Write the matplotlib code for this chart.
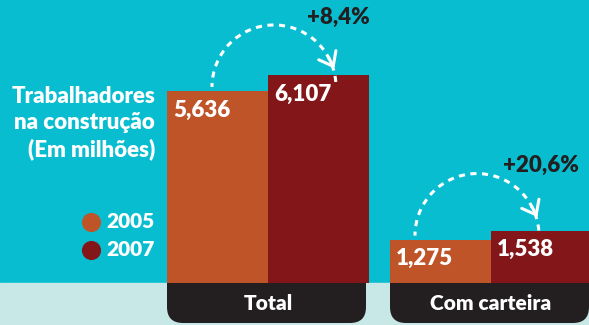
import math
import matplotlib
matplotlib.use('Agg')
import matplotlib.pyplot as plt
from matplotlib import font_manager as fm
from matplotlib.patches import Arc, FancyBboxPatch

# dados (milhões de trabalhadores)
categories = ['Total', 'Com carteira']
years = ['2005', '2007']
v2005 = [5.636, 1.275]
v2007 = [6.107, 1.538]

# cores
bg = '#09bdd1'
band = '#c8e7e7'
c2005 = '#bf5428'
c2007 = '#831619'
dark = '#231f20'

# Lato pesada direto pelo arquivo
heavy = [f.fname for f in fm.fontManager.ttflist
         if f.name == 'Lato' and f.weight == 800 and f.style == 'normal']


def fp(size):
    if heavy:
        return fm.FontProperties(fname=heavy[0], size=size)
    return fm.FontProperties(family='DejaVu Sans', weight='bold', size=size)


fig = plt.figure(figsize=(5.89, 3.25), dpi=100)
fig.patch.set_facecolor(bg)
ax = fig.add_axes([0, 0, 1, 1])
ax.set_facecolor(bg)

px_x = 223.0      # pixels por unidade x
px_y = 34.07      # pixels por milhão
ax.set_xlim(-268 / px_x, (589 - 268) / px_x)
ax.set_ylim(-42 / px_y, 283 / px_y)
ax.axis('off')

# faixa clara embaixo
ax.axhspan(-42 / px_y, 0, color=band, zorder=0)

w = 101 / px_x
xs = list(range(len(categories)))

# caixa preta com o nome da categoria
for x, cat in zip(xs, categories):
    box = FancyBboxPatch((x - w, -40 / px_y), 2 * w - 3 / px_x, 60 / px_y,
                         boxstyle='round,pad=0,rounding_size=%f' % (16 / px_x),
                         mutation_aspect=px_x / px_y,
                         fc=dark, ec='none', zorder=1)
    ax.add_patch(box)
    ax.text(x, -20 / px_y, cat, color='white', fontproperties=fp(15),
            ha='center', va='center', zorder=3)

b1 = ax.bar([x - w / 2 for x in xs], v2005, width=w, color=c2005, zorder=2)
b2 = ax.bar([x + w / 2 for x in xs], v2007, width=w, color=c2007, zorder=2)

# valores dentro das barras
for bars, vals in ((b1, v2005), (b2, v2007)):
    for rect, v in zip(bars, vals):
        ax.text(rect.get_x() + 6 / px_x, v - 19 / px_y,
                ('%.3f' % v).replace('.', ','), color='white',
                fontproperties=fp(16), ha='left', va='center', zorder=3)

# setas tracejadas com a variação
arc_dx = [6 / px_x, -14 / px_x]
r = 62
for x, a, b, dx in zip(xs, v2005, v2007, arc_dx):
    cx = x + dx
    cy = a + 4 / px_y
    ax.add_patch(Arc((cx, cy), 2 * r / px_x, 2 * r / px_y, theta1=28, theta2=180,
                     color='white', lw=2.2, ls=(0, (2, 1.8)), zorder=3))
    t = math.radians(28)
    ex = cx + r * math.cos(t) / px_x
    ey = cy + r * math.sin(t) / px_y
    tx = ex + 12 * math.sin(t) / px_x
    ty = ey - 12 * math.cos(t) / px_y
    ax.annotate('', xy=(tx, ty), xytext=(ex, ey),
                arrowprops=dict(arrowstyle='->,head_length=0.45,head_width=0.35',
                                color='white', lw=2.2, mutation_scale=20,
                                shrinkA=0, shrinkB=0), zorder=3)
    pct = ('+%.1f%%' % ((b / a - 1) * 100)).replace('.', ',')
    ax.text(cx + 64 / px_x, cy + 70 / px_y, pct, color=dark,
            fontproperties=fp(16), ha='center', va='center', zorder=3)

# título e legenda à esquerda
ax.text(155 / 589, 1 - 123 / 325, 'Trabalhadores\nna construção\n(Em milhões)',
        transform=ax.transAxes, color='white', fontproperties=fp(16),
        ha='right', va='center', ma='right', linespacing=1.3)
for yp, col, yr in ((222, c2005, years[0]), (250, c2007, years[1])):
    ax.scatter([91 / 589], [1 - yp / 325], s=190, color=col,
               transform=ax.transAxes, zorder=3, linewidths=0)
    ax.text(155 / 589, 1 - yp / 325, yr, transform=ax.transAxes,
            color='white', fontproperties=fp(15), ha='right', va='center')

fig.savefig('out.png', dpi=100, facecolor=bg)
